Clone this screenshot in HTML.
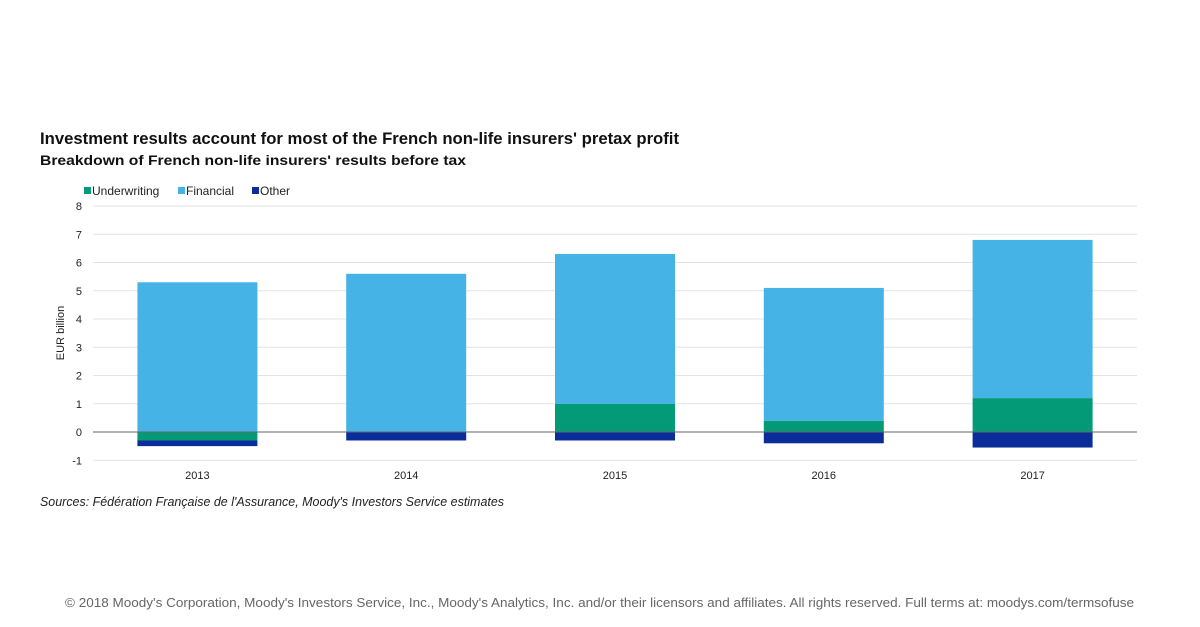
<!DOCTYPE html>
<html><head><meta charset="utf-8"><style>
body{margin:0;background:#fff;width:1200px;height:627px;overflow:hidden;font-family:"Liberation Sans",sans-serif}
svg{position:absolute;left:0;top:0}
</style></head><body>
<svg width="1200" height="627">
<text x="40" y="144" font-size="17" font-weight="bold" fill="#111" textLength="639" lengthAdjust="spacingAndGlyphs">Investment results account for most of the French non-life insurers' pretax profit</text>
<text x="40" y="165" font-size="14" font-weight="bold" fill="#111" textLength="426" lengthAdjust="spacingAndGlyphs">Breakdown of French non-life insurers' results before tax</text>
<g font-size="12" fill="#222">
<rect x="84" y="187" width="7" height="7" fill="#039a77"/><text x="92" y="195">Underwriting</text>
<rect x="178" y="187" width="7" height="7" fill="#45b3e5"/><text x="186" y="195">Financial</text>
<rect x="252" y="187" width="7" height="7" fill="#0a2d9a"/><text x="260" y="195">Other</text>
</g>
<g id="grid"></g><g id="bars"></g><g id="axis"></g>
<text transform="translate(64,333) rotate(-90)" text-anchor="middle" font-size="11" fill="#222">EUR billion</text>
<text x="40" y="506" font-size="13" font-style="italic" fill="#222" textLength="464" lengthAdjust="spacingAndGlyphs">Sources: Fédération Française de l'Assurance, Moody's Investors Service estimates</text>
<text x="65" y="607" font-size="12.5" fill="#666" textLength="1069" lengthAdjust="spacingAndGlyphs">© 2018 Moody's Corporation, Moody's Investors Service, Inc., Moody's Analytics, Inc. and/or their licensors and affiliates. All rights reserved. Full terms at: moodys.com/termsofuse</text>
</svg>
<script>
const categories=['2013','2014','2015','2016','2017'];
const underwriting=[-0.3,0,1.0,0.4,1.2];
const financial=[5.3,5.6,5.3,4.7,5.6];
const other=[-0.2,-0.3,-0.3,-0.4,-0.55];
const yTicks=[-1,0,1,2,3,4,5,6,7,8];
const NS='http://www.w3.org/2000/svg';
const x0=93,x1=1137,y=v=>432-v*28.25;
const bw=(x1-x0)/categories.length, barW=120;
const cx=i=>x0+bw*(i+0.5);
function mk(t,a,p){const e=document.createElementNS(NS,t);for(const k in a)e.setAttribute(k,a[k]);p.appendChild(e);return e;}
const G=document.getElementById('grid'),B=document.getElementById('bars'),A=document.getElementById('axis');
yTicks.forEach(t=>{
 const l=mk('line',{x1:x0,x2:x1,y1:y(t),y2:y(t),stroke:t===0?'#666':'#e3e3e3','stroke-width':1},t===0?A:G);
 
 
 const tx=mk('text',{x:82,y:y(t)+4,'text-anchor':'end','font-size':11,fill:'#222'},G);
 tx.textContent=t;
 
 
});
categories.forEach((c,i)=>{
 let pos=0,neg=0;
 const segs=[[underwriting[i],'#039a77','underwriting'],[financial[i],'#45b3e5','financial'],[other[i],'#0a2d9a','other']];
 segs.forEach(([v,col,n])=>{
  if(!v)return;
  let a,b;
  if(v>0){a=pos;b=pos+v;pos=b;}else{a=neg;b=neg+v;neg=b;}
  const r=mk('rect',{x:cx(i)-barW/2,width:barW,y:Math.min(y(a),y(b)),height:Math.abs(y(a)-y(b)),fill:col},B);
  
  
 });
 const t=mk('text',{x:cx(i),y:479,'text-anchor':'middle','font-size':11,fill:'#222'},A);
 t.textContent=c;
 
 
});
</script>
</body></html>
